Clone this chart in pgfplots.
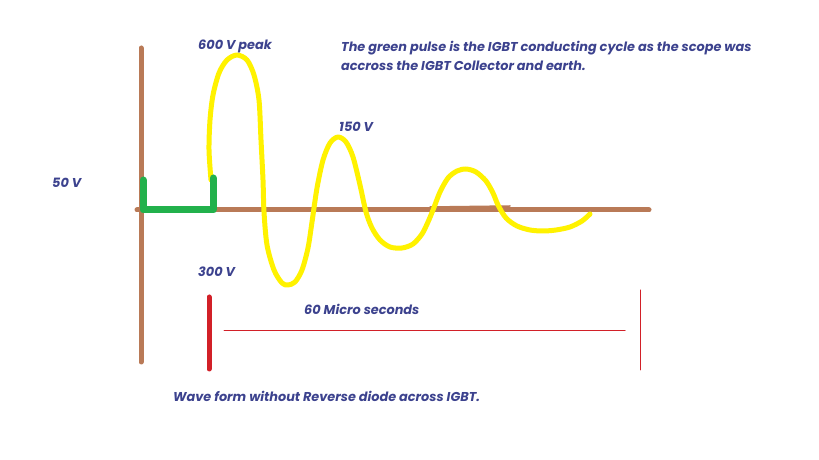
\documentclass[border=0pt]{standalone}
\usepackage{fontspec}
\setmainfont{Poppins}
\usepackage{pgfplots}
\pgfplotsset{compat=1.18}
\definecolor{paintbrown}{RGB}{185,122,87}
\definecolor{paintgreen}{RGB}{34,177,76}
\definecolor{paintyellow}{RGB}{255,242,0}
\definecolor{paintred}{RGB}{210,32,40}
\definecolor{inkblue}{RGB}{60,66,142}
\tikzset{lbl/.style={anchor=base west, inner sep=0pt, text=inkblue,
    font=\fontsize{12.9}{15}\selectfont\bfseries\itshape}}
\begin{document}
\begin{tikzpicture}
  \begin{axis}[
      scale only axis, width=819bp, height=460bp,
      xmin=0, xmax=819, ymin=0, ymax=460, y dir=reverse,
      hide axis, clip=false,
      every axis plot/.append style={line cap=round, line join=round},
    ]
    \path[fill=white] (axis cs:0,0) rectangle (axis cs:819,460);
    % brown axes
    \addplot[paintbrown, line width=5bp] coordinates {(141,48) (141,362)};
    \addplot[paintbrown, line width=5bp] coordinates {(137,210) (649,210)};
    \addplot[paintbrown, line width=1.5bp] coordinates {(430,207) (510,206)};
    % yellow ringing
    \addplot[paintyellow, line width=5bp, smooth] coordinates {
      (211,180) (209,150) (210,120) (213,95) (219,73) (227,60) (237,55)
      (247,60) (254,75) (259,100) (261,140) (263,180) (264,212)
      (267,245) (274,270) (282,283) (288,285) (295,282) (302,270) (308,248)
      (312,222) (317,188) (323,160) (330,143) (338,137) (346,142) (353,157)
      (360,185) (366,212) (372,228) (380,240) (390,247) (402,248) (413,244)
      (422,234) (428,222) (433,210) (440,192) (448,178) (457,171) (466,169)
      (476,172) (486,181) (493,193) (498,205) (506,218) (517,226) (530,230)
      (543,231) (556,230) (570,227) (582,221) (590,214)};
    % green conducting pulse
    \addplot[paintgreen, line width=7bp] coordinates {
      (143,180) (143,210) (213,210) (213,178)};
    % red markers
    \addplot[paintred, line width=5bp] coordinates {(209,297) (209,369)};
    \addplot[paintred, line width=1bp] coordinates {(224,331) (625,331)};
    \addplot[paintred, line width=1bp] coordinates {(640,290) (640,370)};
    % labels
    \node[lbl] at (axis cs:198,50) {600 V peak};
    \node[lbl] at (axis cs:341,52) {The green pulse is the IGBT conducting cycle as the scope was};
    \node[lbl] at (axis cs:341,71) {accross the IGBT Collector and earth.};
    \node[lbl] at (axis cs:339,132) {150 V};
    \node[lbl] at (axis cs:52,188) {50 V};
    \node[lbl] at (axis cs:198,277) {300 V};
    \node[lbl] at (axis cs:304,315) {60 Micro seconds};
    \node[lbl] at (axis cs:173,402) {Wave form without Reverse diode across IGBT.};
  \end{axis}
\end{tikzpicture}
\end{document}
